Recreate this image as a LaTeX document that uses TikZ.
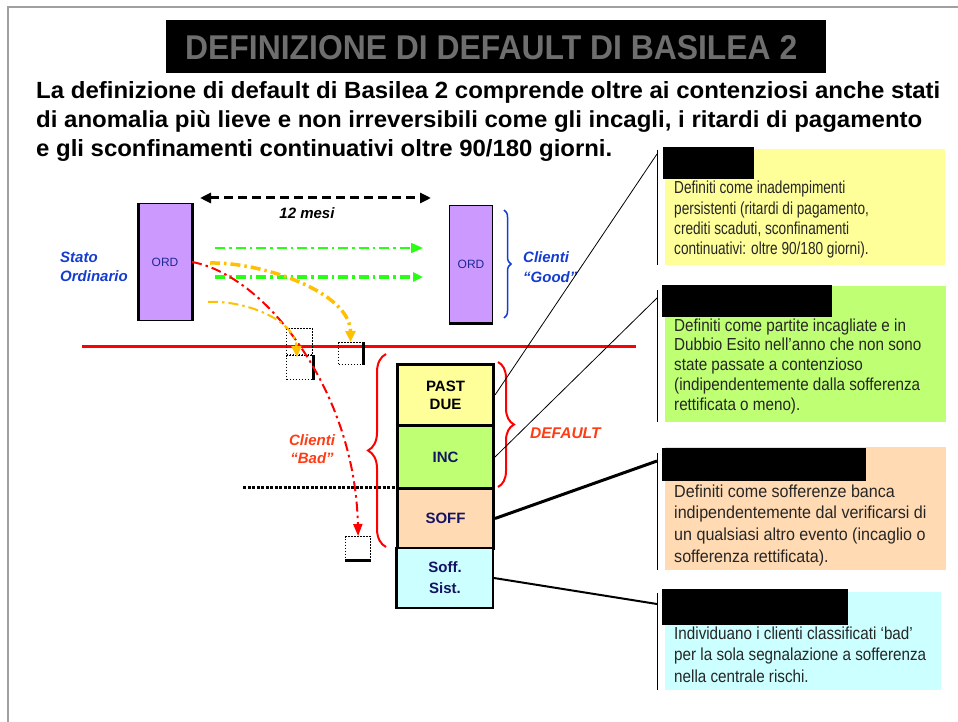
\documentclass[tikz,border=0pt]{standalone}
\usepackage{fontspec}
\setmainfont{Liberation Sans}
\usepackage{graphicx}
\usetikzlibrary{arrows.meta,decorations.pathreplacing}
\definecolor{cOrd}{RGB}{204,153,255}
\definecolor{cPast}{RGB}{255,255,153}
\definecolor{cInc}{RGB}{191,255,115}
\definecolor{cSoff}{RGB}{255,218,179}
\definecolor{cSist}{RGB}{204,255,255}
\definecolor{cBlue}{RGB}{20,60,210}
\definecolor{cOrdText}{RGB}{30,40,150}
\definecolor{cBad}{RGB}{255,60,20}
\definecolor{cNavy}{RGB}{20,20,100}
\definecolor{cGold}{RGB}{255,192,0}
\definecolor{cLime}{RGB}{40,255,20}
\definecolor{cTitle}{RGB}{110,110,110}
\definecolor{cFrame}{RGB}{160,160,160}
\definecolor{cRed}{RGB}{255,0,0}
\tikzset{
  ordbox/.style={draw=black, line width=1pt, fill=cOrd, inner sep=0, anchor=north west,
    font=\fontsize{12}{14}\selectfont, text=cOrdText},
  stackbox/.style={draw=black, line width=3pt, inner sep=0, anchor=north west, align=center,
    minimum width=96pt, font=\bfseries\fontsize{15}{18}\selectfont, text=cNavy},
  dotbox/.style={draw=black, line width=1.2pt, dash pattern=on 1.5pt off 1.5pt, inner sep=0, anchor=north west},
  callbg/.style={inner sep=0, anchor=north west},
  redact/.style={fill=black, inner sep=0, anchor=north west},
  calltext/.style={inner sep=0, anchor=base west, text=black!85},
  bluelabel/.style={text=cBlue, font=\bfseries\itshape\fontsize{15}{19.5}\selectfont, align=left, inner sep=0, anchor=west},
  redlabel/.style={text=cBad, font=\bfseries\itshape\fontsize{15}{18.5}\selectfont, inner sep=0},
  dashdot/.style={dash pattern=on 10pt off 4pt on 2.5pt off 4pt},
  callline/.style={draw=black, line width=0.8pt},
  bodyline/.style={anchor=base west, inner sep=0},
}
\begin{document}
\begin{tikzpicture}[x=1pt,y=-1pt]
\useasboundingbox (0,0) rectangle (958,722);
\fill[white] (0,0) rectangle (958,722);
\draw[cFrame, line width=1.5pt] (8,722) -- (8,7) -- (958,7);

% title
\node[redact, minimum width=660pt, minimum height=53pt] (titlebox) at (166,20) {};
\node[bodyline, text=cTitle] (title) at (185,60)
  {\resizebox{612pt}{24pt}{\bfseries DEFINIZIONE DI DEFAULT DI BASILEA 2}};

% body text
\node[bodyline] (l1) at (36,99)
  {\resizebox{904pt}{17pt}{\bfseries La definizione di default di Basilea 2 comprende oltre ai contenziosi anche stati}};
\node[bodyline] (l2) at (36,128)
  {\resizebox{886pt}{17pt}{\bfseries di anomalia più lieve e non irreversibili come gli incagli, i ritardi di pagamento}};
\node[bodyline] (l3) at (36,157)
  {\resizebox{576pt}{17pt}{\bfseries e gli sconfinamenti continuativi oltre 90/180 giorni.}};

% ORD boxes
\node[ordbox, minimum width=53pt, minimum height=117pt] (ordL) at (138,203) {ORD};
\draw[line width=3pt] (ordL.north west) -- (ordL.south west);
\draw[line width=3pt] (ordL.north east) -- (ordL.south east);
\node[ordbox, minimum width=43pt, minimum height=117pt] (ordR) at (449,205) {ORD};
\draw[line width=3pt] (ordR.south west) -- (ordR.south east);

\node[bluelabel] (stato) at (60,267) {Stato\\Ordinario};
\node[bluelabel] (good) at (523,267) {Clienti\\“Good”};
\draw[cBlue, line width=1.5pt, decorate, decoration={brace, amplitude=7pt}] (504,210) -- (504,318);

% 12 mesi
\coordinate (dl) at (200,198);
\coordinate (dr) at (431,198);
\draw[line width=3pt, dash pattern=on 9pt off 5pt, {Triangle[length=11pt,width=10pt]}-{Triangle[length=11pt,width=10pt]}] (dl) -- (dr);
\node[font=\bfseries\itshape\fontsize{15}{18}\selectfont, inner sep=0] (mesi) at (307,213) {12 mesi};

% green arrows
\coordinate (g1s) at (215,248); \coordinate (g1e) at (423,248);
\coordinate (g2s) at (215,277); \coordinate (g2e) at (423,277);
\draw[cLime, line width=1.5pt, dashdot, -{Triangle[length=12pt,width=10pt]}] (g1s) -- (g1e);
\draw[cLime, line width=3.5pt, dashdot, -{Triangle[length=10pt,width=9pt]}] (g2s) -- (g2e);

% red line
\coordinate (rl1) at (82,346); \coordinate (rl2) at (636,346);
\draw[cRed, line width=3pt] (rl1) -- (rl2);

% small dotted boxes
\node[dotbox, minimum width=26pt, minimum height=26pt] (boxA1) at (286,328) {};
\node[dotbox, minimum width=26pt, minimum height=24pt] (boxA2) at (286,355) {};
\draw[line width=3pt] (boxA2.north east) -- (boxA2.south east);
\node[dotbox, minimum width=24pt, minimum height=22pt] (boxB) at (338,342) {};
\draw[line width=3pt] (boxB.north east) -- (boxB.south east);
\node[dotbox, minimum width=25pt, minimum height=23pt] (boxC) at (345,536) {};
\draw[line width=3pt] (boxC.south west) -- (boxC.south east);

% curved arrows
\coordinate (rs) at (192,262);
\draw[cRed, line width=2pt, dashdot, -{Triangle[length=12pt,width=9pt]}]
  (rs) .. controls (265,275) and (355,390) .. (boxC.north);
\coordinate (y1s) at (210,263);
\draw[cGold, line width=3.5pt, dashdot, -{Triangle[length=11pt,width=10pt]}]
  (y1s) .. controls (262,262) and (350,292) .. (boxB.north);
\coordinate (y2s) at (208,302);
\coordinate (y2e) at (297,357);
\draw[cGold, line width=2pt, dashdot, -{Triangle[length=11pt,width=10pt]}]
  (y2s) .. controls (245,300) and (295,320) .. (y2e);

% stack
\node[stackbox, fill=cPast, minimum height=61pt, text=black] (pd) at (396,363) {PAST\\DUE};
\node[stackbox, fill=cInc, minimum height=63pt] (inc) at (396,424) {INC};
\node[stackbox, fill=cSoff, minimum height=60pt] (soff) at (396,487) {SOFF};
\node[stackbox, fill=cSist, minimum height=60pt, line width=2pt] (sist) at (396,547) {Soff.\\[3pt]Sist.};
\draw[line width=3pt] (sist.north west) -- (sist.south west);

% dotted horizontal line
\coordinate (dots) at (243,487);
\draw[line width=3pt, dash pattern=on 3pt off 1.5pt] (dots) -- (soff.north west);

% braces
\draw[cRed, line width=2pt, decorate, decoration={brace, amplitude=18pt}] (386,547) -- (386,354);
\draw[cRed, line width=2pt, decorate, decoration={brace, amplitude=16pt}] (498,362) -- (498,487);
\node[redlabel, align=center] (bad) at (312,449) {Clienti\\“Bad”};
\node[redlabel, anchor=west, font=\bfseries\itshape\fontsize{15.5}{18}\selectfont] (deflabel) at (530,433) {DEFAULT};

% callout 1
\node[callbg, fill=cPast, minimum width=280pt, minimum height=116pt] (c1) at (665,149) {};
\node[redact, minimum width=91pt, minimum height=32pt] (k1) at (663,147) {};
\coordinate (v1t) at (657,150); \coordinate (v1b) at (657,265); \coordinate (v1h) at (657,154);
\draw[callline] (v1t) -- (v1b);
\draw[callline] (pd.east) -- (v1h);
\node[calltext, font=\fontsize{14.5}{16.8}\selectfont] (t1) at (674,194)
  {\scalebox{0.94}[1.2]{\begin{tabular}[t]{@{}l@{}}Definiti come inadempimenti\\persistenti (ritardi di pagamento,\\crediti scaduti, sconfinamenti\\continuativi: oltre 90/180 giorni).\end{tabular}}};

% callout 2
\node[callbg, fill=cInc, minimum width=281pt, minimum height=136pt] (c2) at (665,286) {};
\node[redact, minimum width=170pt, minimum height=32pt] (k2) at (662,285) {};
\coordinate (v2t) at (657,290); \coordinate (v2b) at (657,422); \coordinate (v2h) at (657,298);
\draw[callline] (v2t) -- (v2b);
\draw[callline] (inc.east) -- (v2h);
\node[calltext, font=\fontsize{14.5}{16.5}\selectfont] (t2) at (674,331)
  {\scalebox{1.05}[1.2]{\begin{tabular}[t]{@{}l@{}}Definiti come partite incagliate e in\\Dubbio Esito nell’anno che non sono\\state passate a contenzioso\\(indipendentemente dalla sofferenza\\rettificata o meno).\end{tabular}}};

% callout 3
\node[callbg, fill=cSoff, minimum width=281pt, minimum height=123pt] (c3) at (665,447) {};
\node[redact, minimum width=204pt, minimum height=33pt] (k3) at (662,448) {};
\coordinate (v3t) at (657,453); \coordinate (v3b) at (657,570); \coordinate (v3h) at (657,461);
\draw[callline] (v3t) -- (v3b);
\draw[line width=3pt] (soff.east) -- (v3h);
\node[calltext, font=\fontsize{14.5}{18.3}\selectfont] (t3) at (674,497)
  {\scalebox{1.11}[1.2]{\begin{tabular}[t]{@{}l@{}}Definiti come sofferenze banca\\indipendentemente dal verificarsi di\\un qualsiasi altro evento (incaglio o\\sofferenza rettificata).\end{tabular}}};

% callout 4
\node[callbg, fill=cSist, minimum width=276pt, minimum height=98pt] (c4) at (665,592) {};
\node[redact, minimum width=186pt, minimum height=36pt] (k4) at (662,589) {};
\coordinate (v4t) at (657,593); \coordinate (v4b) at (657,690); \coordinate (v4h) at (657,604);
\draw[callline] (v4t) -- (v4b);
\draw[line width=2pt] (sist.east) -- (v4h);
\node[calltext, font=\fontsize{14.5}{18.3}\selectfont] (t4) at (674,639)
  {\scalebox{1.05}[1.2]{\begin{tabular}[t]{@{}l@{}}Individuano i clienti classificati ‘bad’\\per la sola segnalazione a sofferenza\\nella centrale rischi.\end{tabular}}};
\end{tikzpicture}
\end{document}
